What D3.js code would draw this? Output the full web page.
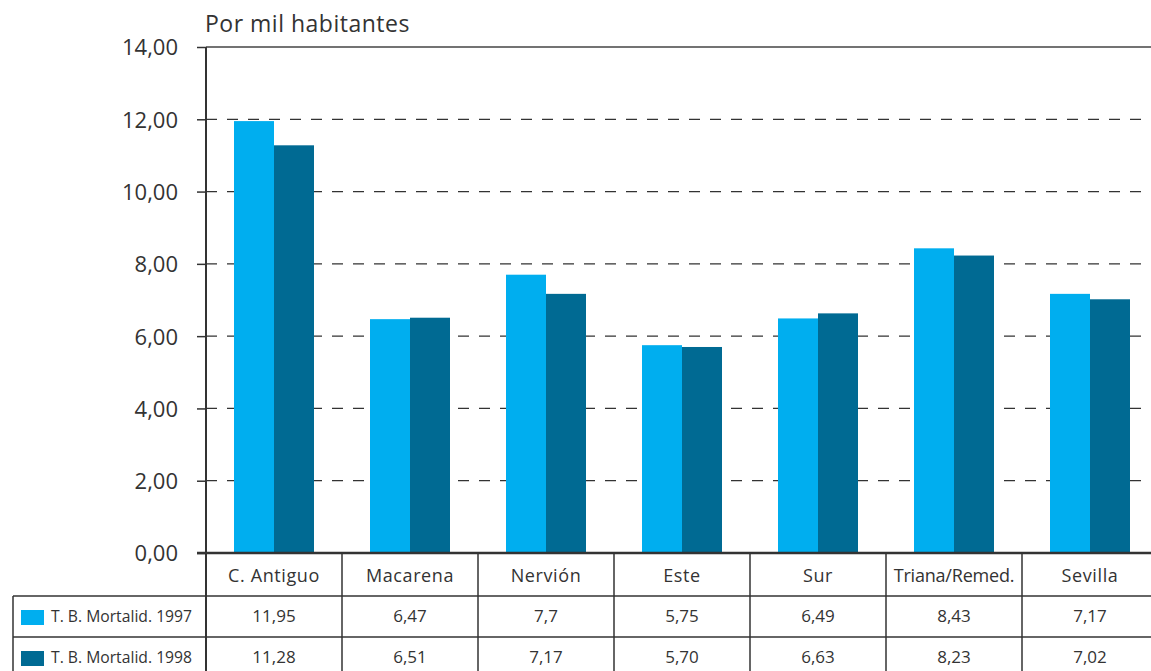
<!DOCTYPE html>
<html>
<head>
<meta charset="utf-8">
<script src="https://cdn.jsdelivr.net/npm/d3@7"></script>
<style>
  body { margin: 0; background: #fff; }
  svg { display: block; font-family: "Open Sans", sans-serif; }
</style>
</head>
<body>
<div class="chart"></div>
<script>
// data
const districts = ["C. Antiguo", "Macarena", "Nervión", "Este", "Sur", "Triana/Remed.", "Sevilla"];
const series = ["T. B. Mortalid. 1997", "T. B. Mortalid. 1998"];
const rate1997 = [11.95, 6.47, 7.7, 5.75, 6.49, 8.43, 7.17];
const rate1998 = [11.28, 6.51, 7.17, 5.70, 6.63, 8.23, 7.02];
const labels1997 = ["11,95", "6,47", "7,7", "5,75", "6,49", "8,43", "7,17"];
const labels1998 = ["11,28", "6,51", "7,17", "5,70", "6,63", "8,23", "7,02"];
const yTicks = [0, 2, 4, 6, 8, 10, 12, 14];
const colors = ["#00aeef", "#006a93"];

const width = 1151, height = 671;
const plotLeft = 206, plotTop = 47, plotBottom = 553, colW = 136;
const rowY = [553, 596, 637];

const svg = d3.select(".chart").append("svg")
  .attr("width", width).attr("height", height);

const x = d3.scaleBand().domain(districts).range([plotLeft, plotLeft + colW * districts.length]);
const xInner = d3.scaleBand().domain(series).range([28, colW - 28]);
const y = d3.scaleLinear().domain([0, 14]).range([plotBottom, plotTop]);

const es = d3.formatLocale({ decimal: ",", thousands: ".", grouping: [3], currency: ["", "€"] });
const fmt = es.format(".2f");

// gridlines
svg.append("g")
  .selectAll("line")
  .data(yTicks.filter(d => d > 0 && d < 14))
  .join("line")
  .attr("x1", plotLeft).attr("x2", width)
  .attr("y1", d => y(d)).attr("y2", d => y(d))
  .attr("stroke", "#333").attr("stroke-width", 1.3)
  .attr("stroke-dasharray", "11,10");

// top line
svg.append("line")
  .attr("x1", plotLeft).attr("x2", width)
  .attr("y1", y(14)).attr("y2", y(14))
  .attr("stroke", "#444").attr("stroke-width", 1.5);

// bars
const data = districts.map((d, i) => ({ d, vals: [rate1997[i], rate1998[i]] }));
const groups = svg.append("g").selectAll("g")
  .data(data).join("g")
  .attr("transform", d => `translate(${x(d.d)},0)`);
groups.selectAll("rect")
  .data(d => d.vals.map((v, j) => ({ s: series[j], v, j })))
  .join("rect")
  .attr("x", d => xInner(d.s))
  .attr("width", xInner.bandwidth())
  .attr("y", d => y(d.v))
  .attr("height", d => y(0) - y(d.v))
  .attr("fill", d => colors[d.j]);

// y axis
const yAxis = d3.axisLeft(y).tickValues(yTicks).tickFormat(fmt).tickSize(9).tickPadding(19);
const ga = svg.append("g").attr("transform", `translate(${plotLeft},0)`).call(yAxis);
ga.select(".domain").remove();
ga.selectAll(".tick line").attr("stroke", "#333").attr("stroke-width", 1.5);
ga.selectAll(".tick text").attr("font-size", 22).attr("fill", "#333")
  .attr("font-family", "Open Sans, sans-serif").attr("dy", "0.36em");

// title
svg.append("text")
  .attr("x", 205).attr("y", 32)
  .attr("font-size", 23).attr("fill", "#333")
  .attr("letter-spacing", 0.5)
  .text("Por mil habitantes");

// table lines
const lineC = "#333";
svg.append("line").attr("x1", plotLeft).attr("x2", plotLeft)
  .attr("y1", plotTop).attr("y2", height).attr("stroke", lineC).attr("stroke-width", 2);
svg.append("g").selectAll("line")
  .data(districts.slice(1))
  .join("line")
  .attr("x1", d => x(d)).attr("x2", d => x(d))
  .attr("y1", rowY[0]).attr("y2", height)
  .attr("stroke", lineC).attr("stroke-width", 1.5);
svg.append("line").attr("x1", 13).attr("x2", 13)
  .attr("y1", rowY[1]).attr("y2", height).attr("stroke", lineC).attr("stroke-width", 1.5);
svg.append("line").attr("x1", plotLeft - 9).attr("x2", width)
  .attr("y1", plotBottom).attr("y2", plotBottom).attr("stroke", lineC).attr("stroke-width", 2.5);
svg.append("g").selectAll("line")
  .data([rowY[1], rowY[2]])
  .join("line")
  .attr("x1", 13).attr("x2", width)
  .attr("y1", d => d).attr("y2", d => d)
  .attr("stroke", lineC).attr("stroke-width", 1.5);

// header row
svg.append("g").selectAll("text")
  .data(districts).join("text")
  .attr("x", d => x(d) + colW / 2)
  .attr("y", 582)
  .attr("text-anchor", "middle")
  .attr("font-size", 18).attr("fill", "#333")
  .attr("letter-spacing", d => d.length > 10 ? -0.2 : 0.6)
  .text(d => d);

// value rows with legend keys
[labels1997, labels1998].forEach((labs, r) => {
  const base = r === 0 ? 622 : 663;
  svg.append("g").selectAll("text")
    .data(labs).join("text")
    .attr("x", (d, i) => x(districts[i]) + colW / 2)
    .attr("y", base)
    .attr("text-anchor", "middle")
    .attr("font-size", 17).attr("fill", "#333")
    .text(d => d);
  svg.append("rect")
    .attr("x", 21).attr("y", base - 12)
    .attr("width", 23).attr("height", 15)
    .attr("fill", colors[r]);
  svg.append("text")
    .attr("x", 51).attr("y", base)
    .attr("font-size", 17).attr("fill", "#333")
    .attr("textLength", 141).attr("lengthAdjust", "spacingAndGlyphs")
    .text(series[r]);
});
</script>
</body>
</html>
